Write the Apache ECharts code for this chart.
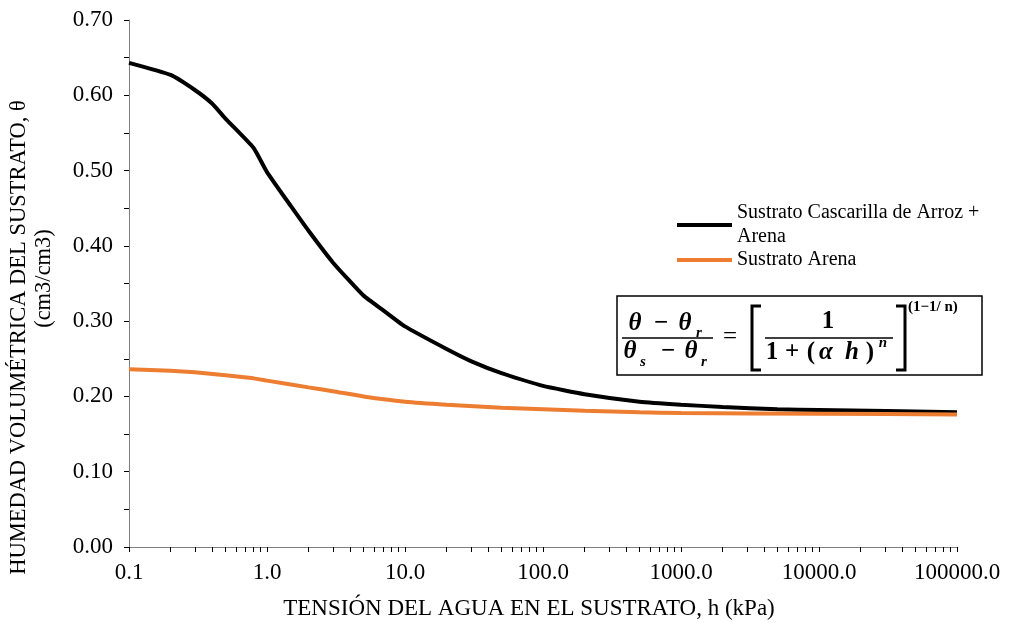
<!DOCTYPE html>
<html lang="es">
<head>
    <meta charset="UTF-8">
    <title>Curva de retención de humedad</title>
    <script src="https://cdn.jsdelivr.net/npm/echarts@6/dist/echarts.min.js"></script>
</head>
<body style="margin:0;background:#fff;">
    <div id="main" style="width:1013px;height:623px;"></div>

    <script>
// datos
var tensionCascarilla = [0.1, 0.2, 0.3, 0.4, 0.5, 0.8, 1, 1.5, 2, 3, 5, 7, 10, 20, 30, 50, 100, 200, 500, 1000, 2000, 5000, 10000, 100000];
var humedadCascarilla = [0.643, 0.627, 0.607, 0.589, 0.569, 0.530, 0.498, 0.452, 0.420, 0.378, 0.334, 0.314, 0.293, 0.263, 0.247, 0.231, 0.214, 0.203, 0.193, 0.189, 0.186, 0.183, 0.182, 0.179];
var tensionArena = [0.1, 0.2, 0.3, 0.5, 0.8, 1, 2, 3, 5, 10, 20, 50, 100, 200, 500, 1000, 10000, 100000];
var humedadArena = [0.236, 0.234, 0.232, 0.228, 0.224, 0.221, 0.212, 0.207, 0.200, 0.193, 0.189, 0.185, 0.183, 0.181, 0.179, 0.178, 0.177, 0.176];
var nombres = ['Sustrato Cascarilla de Arroz +', 'Sustrato Arena'];

function pares(xs, ys) {
    return xs.map(function (x, i) { return [x, ys[i]]; });
}

var fuente = '"Liberation Serif", "Times New Roman", serif';
var fEq = 'italic bold 25px ' + fuente;
var fNum = 'bold 25px ' + fuente;
var fSub = 'italic bold 15px ' + fuente;

// glifo suelto de la ecuacion
function g(txt, x, y, font) {
    return { type: 'text', x: x, y: y, z: 11,
        style: { text: txt, font: font, fill: '#000', align: 'center', verticalAlign: 'middle' } };
}

var myChart = echarts.init(document.getElementById('main'));
myChart.setOption({
    animation: false,
    textStyle: { fontFamily: fuente },
    grid: { left: 129, right: 56, top: 20, bottom: 76, containLabel: false, outerBoundsMode: 'none' },
    legend: [{
        data: [nombres[0]],
        left: 677, top: 189, padding: 0,
        icon: 'rect', itemWidth: 55, itemHeight: 4,
        formatter: function (n) { return n + '\nArena'; },
        textStyle: { fontSize: 20, color: '#000', lineHeight: 24, padding: [24, 0, 0, 0], fontFamily: fuente }
    }, {
        data: [nombres[1]],
        left: 677, top: 248, padding: 0,
        icon: 'rect', itemWidth: 55, itemHeight: 4,
        textStyle: { fontSize: 20, color: '#000', lineHeight: 24, fontFamily: fuente }
    }],
    xAxis: {
        type: 'log', logBase: 10, min: 0.1, max: 100000,
        name: 'TENSIÓN DEL AGUA EN EL SUSTRATO, h (kPa)',
        nameLocation: 'middle', nameGap: 50,
        nameTextStyle: { fontSize: 23, color: '#000', fontFamily: fuente, padding: [0, 28, 0, 0] },
        axisLine: { lineStyle: { color: '#808080', width: 1 } },
        axisTick: { show: true, length: 5, lineStyle: { color: '#000' } },
        minorTick: { show: true, splitNumber: 9, length: 5, lineStyle: { color: '#000' } },
        axisLabel: { fontSize: 23, color: '#000', margin: 14, formatter: function (v) { return v.toFixed(1); } },
        splitLine: { show: false }
    },
    yAxis: {
        type: 'value', min: 0, max: 0.7, interval: 0.1,
        name: 'HUMEDAD VOLUMÉTRICA DEL SUSTRATO, θ\n{u|(cm3/cm3)}',
        nameLocation: 'middle', nameGap: 72,
        nameTextStyle: {
            fontSize: 22.5, color: '#000', lineHeight: 25, fontFamily: fuente, padding: [0, 108, 0, 0],
            rich: { u: { fontSize: 22.5, color: '#000', lineHeight: 25, fontFamily: fuente, padding: [0, 0, 0, 118] } }
        },
        axisLine: { show: true, lineStyle: { color: '#808080', width: 1 } },
        axisTick: { show: true, length: 5, lineStyle: { color: '#000' } },
        minorTick: { show: true, splitNumber: 2, length: 5, lineStyle: { color: '#000' } },
        axisLabel: { fontSize: 23, color: '#000', margin: 16, formatter: function (v) { return v.toFixed(2); } },
        splitLine: { show: false }
    },
    series: [{
        name: nombres[0], type: 'line', smooth: 0.15, showSymbol: false,
        data: pares(tensionCascarilla, humedadCascarilla),
        itemStyle: { color: '#000' },
        lineStyle: { color: '#000', width: 4 }
    }, {
        name: nombres[1], type: 'line', smooth: 0.15, showSymbol: false,
        data: pares(tensionArena, humedadArena),
        itemStyle: { color: '#ED7D31' },
        lineStyle: { color: '#ED7D31', width: 4 }
    }],
    // recuadro con la ecuacion de van Genuchten
    graphic: [
        { type: 'rect', shape: { x: 617, y: 296, width: 365, height: 79 }, style: { fill: '#fff', stroke: '#000', lineWidth: 1.5 }, z: 10 },
        g('θ', 635, 324, fEq), g('−', 661, 324, fNum), g('θ', 685, 324, fEq), g('r', 699, 333, fSub),
        { type: 'line', shape: { x1: 622, y1: 338, x2: 713, y2: 338 }, style: { stroke: '#000', lineWidth: 1.3 }, z: 11 },
        g('θ', 630, 352, fEq), g('s', 643, 362, fSub), g('−', 668, 352, fNum), g('θ', 691, 352, fEq), g('r', 704, 362, fSub),
        g('=', 730, 337, '25px ' + fuente),
        { type: 'polyline', shape: { points: [[761, 306], [752, 306], [752, 370], [761, 370]] }, style: { stroke: '#000', lineWidth: 3, fill: null }, z: 11 },
        g('1', 828, 322, fNum),
        { type: 'line', shape: { x1: 765, y1: 338, x2: 893, y2: 338 }, style: { stroke: '#000', lineWidth: 1.3 }, z: 11 },
        g('1', 772, 353, fNum), g('+', 792, 353, fNum), g('(', 811, 353, fNum), g('α', 826, 353, fEq),
        g('h', 852, 353, fEq), g(')', 870, 353, fNum), g('n', 883, 343, fSub),
        { type: 'polyline', shape: { points: [[896, 306], [905, 306], [905, 370], [896, 370]] }, style: { stroke: '#000', lineWidth: 3, fill: null }, z: 11 },
        { type: 'text', x: 908, y: 307, z: 11, style: { text: '(1−1/ n)', font: 'bold 15px ' + fuente, fill: '#000', verticalAlign: 'middle' } }
    ]
});
    </script>
</body>
</html>
